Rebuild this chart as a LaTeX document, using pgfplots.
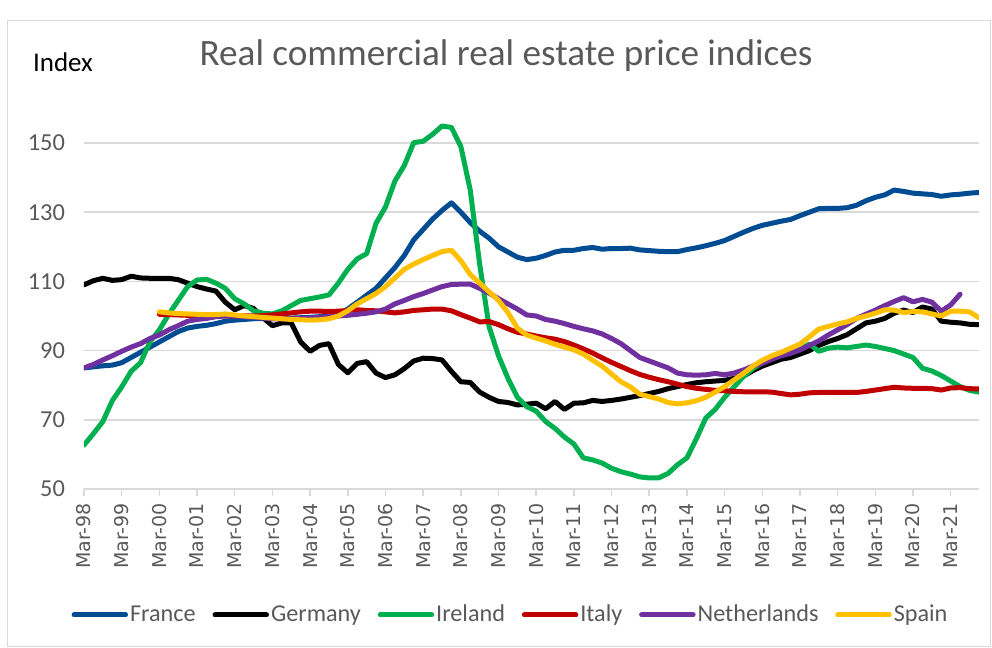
\documentclass[border=0pt]{standalone}
\usepackage{pgfplots}
\usepackage{pgfplotstable}
\usepackage{fontspec}
\pgfplotsset{compat=1.18}
\setmainfont{Carlito}
\newfontfamily\dejavu{DejaVu Sans}

\definecolor{txtgray}{HTML}{595959}
\definecolor{gridgray}{HTML}{D9D9D9}
\definecolor{frame}{HTML}{D9D9D9}
\definecolor{cfr}{RGB}{0,76,147}
\definecolor{cde}{RGB}{0,0,0}
\definecolor{cie}{HTML}{00B050}
\definecolor{cit}{HTML}{C00000}
\definecolor{cnl}{HTML}{7030A0}
\definecolor{ces}{HTML}{FFC000}

% quarterly, 0 = Mar-98
\pgfplotstableread{
idx FR DE IE IT NL ES
0 85 109 62.7 nan 85 nan
1 85.3 110.2 66 nan 86 nan
2 85.6 110.9 69.5 nan 87.3 nan
3 85.8 110.3 75.5 nan 88.5 nan
4 86.5 110.5 79.5 nan 89.8 nan
5 88 111.5 84 nan 91 nan
6 89.5 111 86.5 nan 92 nan
7 91 110.9 92.5 nan 93.5 nan
8 92.5 110.9 96 100.5 94.5 101.2
9 94 110.9 100.5 100.4 96 100.9
10 95.5 110.5 104.5 100.3 97.2 100.7
11 96.5 109.5 108.5 100.2 98.5 100.6
12 97 108.5 110.4 100.2 99 100.5
13 97.3 107.8 110.6 100.1 99.3 100.4
14 97.8 107.2 109.5 100.1 99.8 100.4
15 98.5 104 108 100 100 100.6
16 98.8 101.8 105 100 100 100.3
17 99 103 103.5 100 99.8 100
18 99.2 102.2 101.5 100 99.6 99.8
19 99.3 99.5 100.8 100.1 99.4 99.6
20 99.3 97.2 100.6 100.3 99.2 99.4
21 99.4 98 101.5 100.6 99.2 99.2
22 99.4 98 103 100.9 99.2 99
23 99.5 92.5 104.5 101.2 99.3 98.9
24 99.6 89.8 105 101.4 99.4 98.8
25 99.8 91.5 105.5 101.4 99.6 98.9
26 100 92 106.1 101.3 99.8 99.2
27 100.5 86 109.5 101.4 100 100
28 102 83.6 113.5 101.6 100.2 101.5
29 104 86.3 116.5 101.8 100.5 103.5
30 106 86.8 118 101.6 100.8 105
31 108 83.5 126.8 101.5 101.2 106.5
32 111 82.2 131.5 101.2 102 108.5
33 114 83 139 100.9 103.5 111
34 117.5 84.8 143.5 101.2 104.5 113.5
35 122 87 150.1 101.6 105.6 115
36 125 87.8 150.5 101.8 106.5 116.3
37 128 87.7 152.5 102 107.5 117.5
38 130.5 87.3 154.9 102 108.5 118.6
39 132.7 84 154.5 101.5 109.1 119
40 130 81 149 100.4 109.2 116
41 127 80.8 136.4 99.4 109.2 112
42 124.5 78 115 98.3 108 109.5
43 122.5 76.5 96.9 98.4 106.6 107
44 120 75.3 88.5 97.5 105 104.5
45 118.5 75 82 96.3 103.5 101
46 117 74.3 76.5 95.3 102 96.5
47 116.3 74.5 73.8 94.8 100.3 94.5
48 116.7 74.8 72.5 94.2 100 93.6
49 117.5 73.2 69.5 93.7 99 92.8
50 118.5 75.3 67.5 93.3 98.5 91.8
51 119 73 65 92.6 97.8 91
52 119 74.8 63 91.6 97 90.2
53 119.5 74.9 59 90.5 96.3 89
54 119.8 75.6 58.4 89.3 95.7 87.2
55 119.3 75.3 57.5 87.9 94.8 85.5
56 119.5 75.6 56 86.6 93.5 83.2
57 119.5 76 55 85.4 92 81
58 119.6 76.5 54.3 84.2 90 79.5
59 119.1 77 53.5 83.1 88 77.4
60 118.9 77.6 53.2 82.3 87 76.7
61 118.7 78.2 53.2 81.6 86 76
62 118.6 79 54.5 81 85 75
63 118.6 79.6 57 80.3 83.5 74.6
64 119.2 80.2 59 79.6 83 74.9
65 119.7 80.7 64.5 79.1 82.9 75.5
66 120.3 81 70.5 78.8 83 76.5
67 121 81.2 73 78.5 83.4 78
68 121.8 81.4 76.5 78.4 83 79.6
69 123 82 79.5 78.2 83.5 81.5
70 124.2 82.6 82.5 78.1 84.4 83.4
71 125.3 84.2 84.8 78.1 85.5 85.5
72 126.2 85.5 86.5 78.1 86.3 87.2
73 126.8 86.5 87.8 78 87.5 88.5
74 127.4 87.5 88.8 77.6 88.5 89.5
75 127.9 88 89.7 77.2 89.2 90.7
76 129 89 90.3 77.4 90.2 91.9
77 130 90 91.9 77.8 91.5 94
78 131 91.5 89.8 77.9 92.8 96.2
79 131.1 92.6 90.7 77.9 94.5 97
80 131.1 93.5 91 77.9 96 97.7
81 131.3 94.6 90.8 77.9 97.5 98.3
82 132 96.3 91.2 77.9 99.3 99.3
83 133.3 98 91.6 78.2 100.5 100
84 134.3 98.5 91.2 78.6 101.7 100.8
85 135 99.3 90.6 79 103 101.8
86 136.4 100.8 90 79.4 104.2 101.7
87 136 101.7 89 79.2 105.3 101
88 135.5 101 88 79.1 104.1 101.3
89 135.3 102.6 84.9 79.1 104.8 101.2
90 135.1 102 84.1 79 104 100.6
91 134.6 98.5 82.8 78.6 101.4 100
92 135 98.2 81.2 79.2 103.2 101.4
93 135.2 98 79.6 79.3 106.3 101.4
94 135.5 97.6 78.5 79 nan 101.2
95 135.7 97.5 78 78.9 nan 99.5
}\cre

\begin{document}
\begin{tikzpicture}
\begin{axis}[
    name=ax,
    scale only axis,
    width=447.5pt, height=190.3pt,
    xmin=0, xmax=95,
    ymin=50, ymax=160,
    axis lines*=left,
    y axis line style={draw=none},
    x axis line style={color=gridgray, line width=0.75pt},
    ytick={50,70,90,110,130,150},
    ytick style={draw=none},
    xtick={0,4,...,92},
    xticklabels={Mar-98,Mar-99,Mar-00,Mar-01,Mar-02,Mar-03,Mar-04,Mar-05,Mar-06,Mar-07,Mar-08,Mar-09,Mar-10,Mar-11,Mar-12,Mar-13,Mar-14,Mar-15,Mar-16,Mar-17,Mar-18,Mar-19,Mar-20,Mar-21},
    tick align=outside,
    major tick length=3.5pt,
    xtick style={color=gridgray, line width=0.75pt},
    x tick label style={rotate=90, anchor=east, text=txtgray,
        font=\dejavu\fontsize{9.5}{10}\selectfont},
    y tick label style={text=txtgray, font=\fontsize{12.2}{13}\selectfont,
        xshift=-2.5pt, /pgf/number format/assume math mode=true},
    ymajorgrids,
    grid style={color=gridgray, line width=0.75pt},
    unbounded coords=jump,
    every axis plot/.append style={line width=2.5pt, line join=round, line cap=round},
    legend columns=6,
    legend style={at={(0.4777,-0.331)}, anchor=center, draw=none, fill=none,
        font=\fontsize{12.1}{13}\selectfont, text=txtgray,
        /tikz/every even column/.append style={column sep=6.4pt},
        /tikz/every odd column/.append style={column sep=-1pt}},
    legend image code/.code={\draw[#1, line width=2.5pt, line cap=round] (1.25pt,0pt) -- (27pt,0pt);},
]
\addplot[cfr] table[x=idx, y=FR] {\cre};
\addlegendentry{France}
\addplot[cde] table[x=idx, y=DE] {\cre};
\addlegendentry{Germany}
\addplot[cie] table[x=idx, y=IE] {\cre};
\addlegendentry{Ireland}
\addplot[cit] table[x=idx, y=IT] {\cre};
\addlegendentry{Italy}
\addplot[cnl] table[x=idx, y=NL] {\cre};
\addlegendentry{Netherlands}
\addplot[ces] table[x=idx, y=ES] {\cre};
\addlegendentry{Spain}
\end{axis}
\begin{scope}[shift={(ax.south west)}]
\begin{scope}[shift={(-42pt,244.5pt)}, x=0.5pt, y=-0.5pt]
  \path[use as bounding box] (0,0) rectangle (992,648);
  \draw[frame, line width=0.75pt] (7.5,20.5) rectangle (990.5,646.5);
  \node[text=txtgray, font=\fontsize{18.6}{20}\selectfont] at (506,56) {Real commercial real estate price indices};
  \node[font=\fontsize{13.5}{15}\selectfont] at (63,62) {Index};
\end{scope}
\end{scope}
\end{tikzpicture}
\end{document}
